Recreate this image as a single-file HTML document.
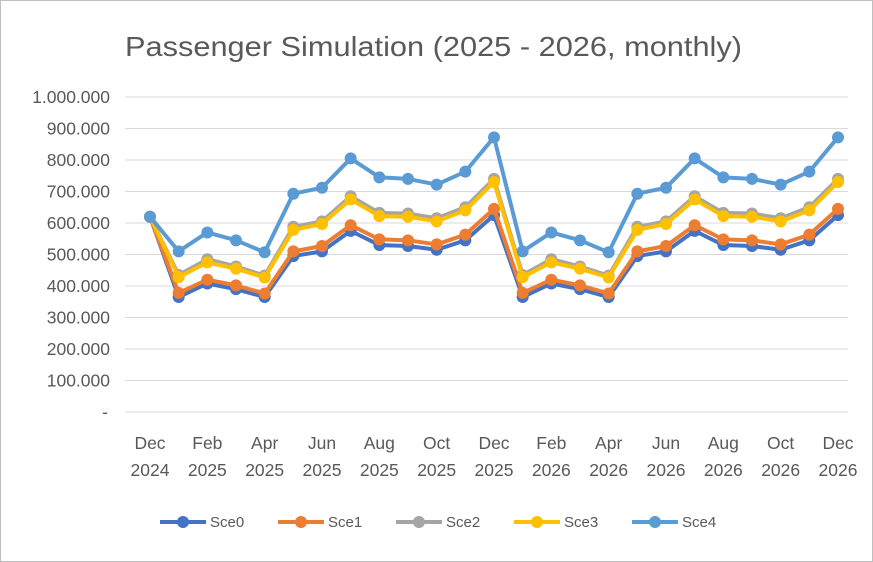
<!DOCTYPE html>
<html><head><meta charset="utf-8"><style>
body{margin:0;background:#fff;}
svg{display:block;font-family:"Liberation Sans",sans-serif;}
</style></head><body>
<svg id="chart" width="873" height="562">
<rect x="0.5" y="0.5" width="872" height="561" fill="#fff" stroke="#bfbfbf"/>
<text x="125" y="56" font-size="28" textLength="617" lengthAdjust="spacingAndGlyphs" fill="#595959">Passenger Simulation (2025 - 2026, monthly)</text>
<g id="grid"></g><g id="xlabels"></g><g id="ylabels"></g><g id="series"></g><g id="legend"></g>
</svg>
<script>
const xLabels1 = ["Dec","","Feb","","Apr","","Jun","","Aug","","Oct","","Dec","","Feb","","Apr","","Jun","","Aug","","Oct","","Dec"];
const xLabels2 = ["2024","","2025","","2025","","2025","","2025","","2025","","2025","","2026","","2026","","2026","","2026","","2026","","2026"];
const yTicks = [0,100000,200000,300000,400000,500000,600000,700000,800000,900000,1000000];
const yTickLabels = ["-","100.000","200.000","300.000","400.000","500.000","600.000","700.000","800.000","900.000","1.000.000"];
const seriesNames = ["Sce0","Sce1","Sce2","Sce3","Sce4"];
const sce0 = [620000,365000,408000,390000,365000,495000,510000,575000,530000,527000,515000,545000,625000,365000,408000,390000,365000,495000,510000,575000,530000,527000,515000,545000,625000];
const sce1 = [620000,378000,420000,402000,376000,510000,527000,593000,548000,545000,532000,563000,645000,378000,420000,402000,376000,510000,527000,593000,548000,545000,532000,563000,645000];
const sce2 = [620000,435000,485000,462000,433000,588000,605000,685000,632000,630000,615000,650000,740000,435000,485000,462000,433000,588000,605000,685000,632000,630000,615000,650000,740000];
const sce3 = [620000,428000,475000,455000,427000,578000,597000,675000,622000,620000,605000,640000,730000,428000,475000,455000,427000,578000,597000,675000,622000,620000,605000,640000,730000];
const sce4 = [620000,510000,570000,545000,507000,693000,712000,805000,745000,740000,722000,763000,872000,510000,570000,545000,507000,693000,712000,805000,745000,740000,722000,763000,872000];
const colors = ["#4472C4","#ED7D31","#A5A5A5","#FFC000","#5B9BD5"];
const NS="http://www.w3.org/2000/svg";
const x = i => 150 + i*(838-150)/(xLabels1.length-1);
const y = v => 412 - v*(412-97)/1000000;
function mk(tag, attrs, parent){const e=document.createElementNS(NS,tag);for(const k in attrs)e.setAttribute(k,attrs[k]);parent.appendChild(e);return e;}
const grid=document.getElementById('grid'), yl=document.getElementById('ylabels'), xl=document.getElementById('xlabels');
yTicks.forEach((t,i)=>{
  const l=mk('line',{x1:125,x2:848,y1:y(t),y2:y(t),stroke:'#d9d9d9','stroke-width':1},grid);
  
  
  const tx=mk('text',{x:i===0?108:110,y:y(t)+6,'text-anchor':'end','font-size':17.5,fill:'#595959'},yl);
  tx.textContent=yTickLabels[i];
  
  
});
xLabels1.forEach((s,i)=>{
  if(!s)return;
  const t1=mk('text',{x:x(i),y:449,'text-anchor':'middle','font-size':17.5,fill:'#595959'},xl);
  t1.textContent=s;
  
  
  const t2=mk('text',{x:x(i),y:476,'text-anchor':'middle','font-size':17.5,fill:'#595959'},xl);
  t2.textContent=xLabels2[i];
  
  
});
const sg=document.getElementById('series');
[sce0,sce1,sce2,sce3,sce4].forEach((d,si)=>{
  const g=mk('g',{},sg);
  
  
  const p=mk('polyline',{points:d.map((v,i)=>x(i)+','+y(v)).join(' '),fill:'none',stroke:colors[si],'stroke-width':4,'stroke-linejoin':'round'},g);
  
  
  d.forEach((v,i)=>{
    const c=mk('circle',{cx:x(i),cy:y(v),r:6,fill:colors[si]},g);
    
    
  });
});
const lg=document.getElementById('legend');
seriesNames.forEach((n,i)=>{
  const lx=160+i*118;
  const g=mk('g',{},lg);
  
  
  mk('line',{x1:lx,x2:lx+46,y1:522,y2:522,stroke:colors[i],'stroke-width':4},g);
  mk('circle',{cx:lx+23,cy:522,r:6,fill:colors[i]},g);
  const t=mk('text',{x:lx+50,y:527,'font-size':15,fill:'#595959'},g);
  t.textContent=n;
});
</script>
</body></html>
